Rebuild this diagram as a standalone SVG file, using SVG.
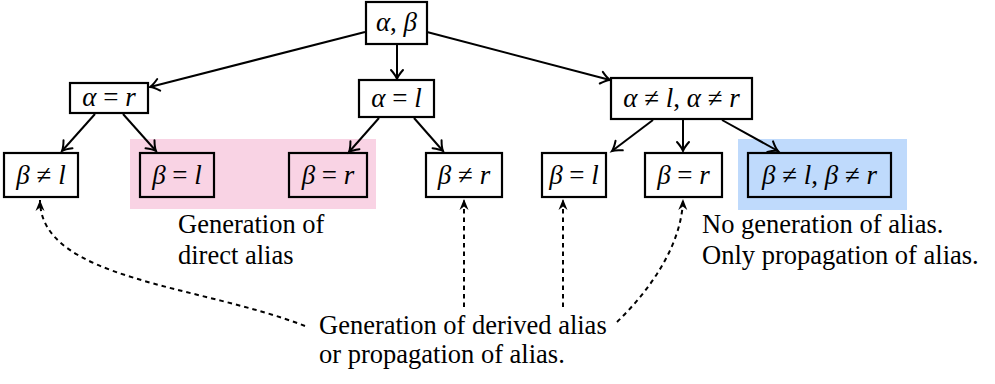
<svg xmlns="http://www.w3.org/2000/svg" width="995" height="384" viewBox="0 0 995 384">
<style>
.box{fill:#fff;stroke:#000;stroke-width:2.2}
.hl{fill:none;stroke:#000;stroke-width:2.2}
.m{font-family:"Liberation Serif","DejaVu Serif",serif;font-size:27px;text-anchor:middle;fill:#000}
.i{font-style:italic}
.t{font-family:"Liberation Serif","DejaVu Serif",serif;font-size:26.5px;fill:#000}
.e{fill:none;stroke:#000;stroke-width:2;marker-end:url(#arr)}
.d{fill:none;stroke:#000;stroke-width:2;stroke-dasharray:4.5 4;marker-end:url(#stl)}
</style>
<defs>
<marker id="arr" markerUnits="userSpaceOnUse" markerWidth="18" markerHeight="18" viewBox="-13 -9 18 18" refX="0" refY="0" orient="auto">
<path d="M-9,-6 Q-3.5,-1.2 0,0 Q-3.5,1.2 -9,6" fill="none" stroke="#000" stroke-width="2" stroke-linecap="round"/>
</marker>
<marker id="stl" markerUnits="userSpaceOnUse" markerWidth="16" markerHeight="16" viewBox="-12 -8 16 16" refX="0" refY="0" orient="auto">
<path d="M0,0 L-11,-4.5 L-7.5,0 L-11,4.5 Z" fill="#000"/>
</marker>
</defs>
<rect x="130" y="139" width="246" height="70" fill="#f9d3e4"/>
<rect x="738" y="139" width="169" height="71" fill="#bfdafc"/>
<g id="connectors">
<line class="e" x1="365" y1="32" x2="150" y2="87"/>
<line class="e" x1="397" y1="44" x2="397" y2="79"/>
<line class="e" x1="427" y1="32" x2="610" y2="80"/>
<line class="e" x1="95" y1="114" x2="62" y2="151"/>
<line class="e" x1="123" y1="114" x2="156" y2="151"/>
<line class="e" x1="379" y1="118" x2="349" y2="152"/>
<line class="e" x1="414" y1="118" x2="443" y2="151"/>
<line class="e" x1="653" y1="120" x2="612" y2="151"/>
<line class="e" x1="683" y1="120" x2="683" y2="151"/>
<line class="e" x1="722" y1="120" x2="778" y2="151"/>
<path class="d" d="M305,326 C200,285 40,280 40,200"/>
<line class="d" x1="464" y1="307" x2="464" y2="199"/>
<line class="d" x1="563" y1="307" x2="563" y2="199"/>
<path class="d" d="M617,322 C650,290 682,245 683,199"/>
</g>
<g id="n0"><rect class="box" x="366" y="2" width="61" height="42"/><text class="m" x="396.5" y="31"><tspan class="i">α</tspan>, <tspan class="i">β</tspan></text></g>
<g id="n1"><rect class="box" x="70" y="83" width="78" height="30"/><text class="m" x="109" y="106"><tspan class="i">α</tspan> = <tspan class="i">r</tspan></text></g>
<g id="n2"><rect class="box" x="359" y="80" width="75" height="37"/><text class="m" x="396.5" y="107"><tspan class="i">α</tspan> = <tspan class="i">l</tspan></text></g>
<g id="n3"><rect class="box" x="611" y="78" width="141" height="41"/><text class="m" x="681.5" y="107"><tspan class="i">α</tspan> ≠ <tspan class="i">l</tspan>, <tspan class="i">α</tspan> ≠ <tspan class="i">r</tspan></text></g>
<g id="n4"><rect class="box" x="4" y="153" width="74" height="44"/><text class="m" x="41" y="184"><tspan class="i">β</tspan> ≠ <tspan class="i">l</tspan></text></g>
<g id="n5"><rect class="hl" x="140" y="153" width="74" height="44"/><text class="m" x="177" y="184"><tspan class="i">β</tspan> = <tspan class="i">l</tspan></text></g>
<g id="n6"><rect class="hl" x="289" y="153" width="78" height="44"/><text class="m" x="328" y="184"><tspan class="i">β</tspan> = <tspan class="i">r</tspan></text></g>
<g id="n7"><rect class="box" x="426" y="153" width="76" height="44"/><text class="m" x="464" y="184"><tspan class="i">β</tspan> ≠ <tspan class="i">r</tspan></text></g>
<g id="n8"><rect class="box" x="542" y="153" width="64" height="44"/><text class="m" x="574" y="184"><tspan class="i">β</tspan> = <tspan class="i">l</tspan></text></g>
<g id="n9"><rect class="box" x="645" y="153" width="77" height="44"/><text class="m" x="683.5" y="184"><tspan class="i">β</tspan> = <tspan class="i">r</tspan></text></g>
<g id="n10"><rect class="hl" x="748" y="153" width="143" height="44"/><text class="m" x="819.5" y="184"><tspan class="i">β</tspan> ≠ <tspan class="i">l</tspan>, <tspan class="i">β</tspan> ≠ <tspan class="i">r</tspan></text></g>
<g id="labels">
<text class="t" x="178" y="233">Generation of</text>
<text class="t" x="178" y="264">direct alias</text>
<text class="t" x="702" y="233">No generation of alias.</text>
<text class="t" x="702" y="264">Only propagation of alias.</text>
<text class="t" x="319" y="334">Generation of derived alias</text>
<text class="t" x="319" y="363">or propagation of alias.</text>
</g>
</svg>
